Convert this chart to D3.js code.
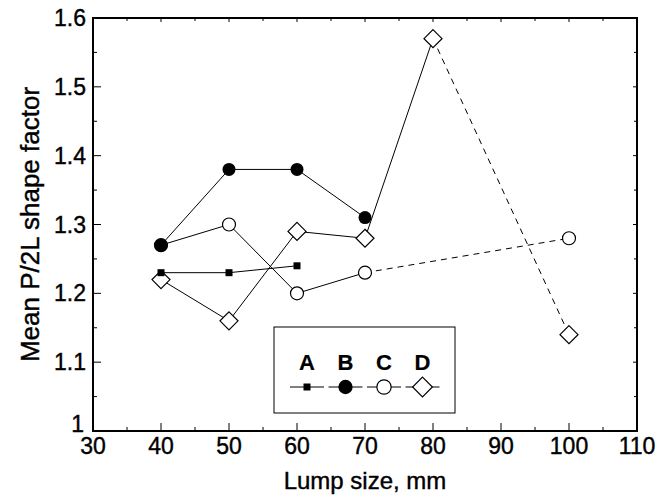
<!DOCTYPE html>
<html>
<head>
<meta charset="utf-8">
<script src="https://cdn.jsdelivr.net/npm/d3@7"></script>
<style>
  body { margin: 0; background: #fff; }
  text { font-family: Arial, "Liberation Sans", sans-serif; fill: #000; stroke: #000; stroke-width: 0.4px; }
</style>
</head>
<body>
<script>
// lump sizes and mean shape factors per series
var seriesA = [[40, 1.23], [50, 1.23], [60, 1.24]];
var seriesB = [[40, 1.27], [50, 1.38], [60, 1.38], [70, 1.31]];
var seriesC = [[40, 1.27], [50, 1.30], [60, 1.20], [70, 1.23]];
var seriesCdash = [[70, 1.23], [100, 1.28]];
var seriesD = [[40, 1.22], [50, 1.16], [60, 1.29], [70, 1.28], [80, 1.57]];
var seriesDdash = [[80, 1.57], [100, 1.14]];
var xTicks = [30, 40, 50, 60, 70, 80, 90, 100, 110];
var yTicks = [1, 1.1, 1.2, 1.3, 1.4, 1.5, 1.6];
var legendNames = ["A", "B", "C", "D"];

var w = 670, h = 502;
var pLeft = 93, pRight = 637, pTop = 18, pBottom = 431;

var svg = d3.select("body").append("svg")
    .attr("width", w)
    .attr("height", h);

var x = d3.scaleLinear().domain([30, 110]).range([pLeft, pRight]);
var y = d3.scaleLinear().domain([1, 1.6]).range([pBottom, pTop]);

var line = d3.line()
    .x(function(d) { return x(d[0]); })
    .y(function(d) { return y(d[1]); });

// minor + major ticks, pointing into the plot
var xMinor = d3.range(35, 110, 10);
var yMinor = d3.range(1.05, 1.6, 0.1);

var g = svg.append("g");
xTicks.forEach(function(t) {
  g.append("line").attr("x1", x(t)).attr("x2", x(t)).attr("y1", pBottom).attr("y2", pBottom - 8);
  g.append("line").attr("x1", x(t)).attr("x2", x(t)).attr("y1", pTop).attr("y2", pTop + 4);
});
xMinor.forEach(function(t) {
  g.append("line").attr("x1", x(t)).attr("x2", x(t)).attr("y1", pBottom).attr("y2", pBottom - 4);
  g.append("line").attr("x1", x(t)).attr("x2", x(t)).attr("y1", pTop).attr("y2", pTop + 3);
});
yTicks.forEach(function(t) {
  g.append("line").attr("x1", pLeft).attr("x2", pLeft + 8).attr("y1", y(t)).attr("y2", y(t));
  g.append("line").attr("x1", pRight).attr("x2", pRight - 4).attr("y1", y(t)).attr("y2", y(t));
});
yMinor.forEach(function(t) {
  g.append("line").attr("x1", pLeft).attr("x2", pLeft + 4).attr("y1", y(t)).attr("y2", y(t));
  g.append("line").attr("x1", pRight).attr("x2", pRight - 3).attr("y1", y(t)).attr("y2", y(t));
});
g.selectAll("line").attr("stroke", "#000").attr("stroke-width", 1);

// frame
svg.append("rect")
    .attr("x", pLeft).attr("y", pTop)
    .attr("width", pRight - pLeft).attr("height", pBottom - pTop)
    .attr("fill", "none").attr("stroke", "#000").attr("stroke-width", 2);

// tick labels
svg.selectAll(".xl").data(xTicks).enter().append("text")
    .attr("x", function(d) { return x(d); })
    .attr("y", pBottom + 23)
    .attr("text-anchor", "middle")
    .style("font-size", "23px")
    .text(function(d) { return d; });

svg.selectAll(".yl").data(yTicks).enter().append("text")
    .attr("x", function(d) { return d == 1 ? pLeft - 9 : pLeft - 7; })
    .attr("y", function(d) { return y(d) + (d == 1 ? 1 : 8); })
    .attr("text-anchor", "end")
    .style("font-size", "23px")
    .text(function(d) { return d == 1 ? "1" : d3.format(".1f")(d); });

// axis titles
svg.append("text")
    .attr("x", 365)
    .attr("y", 489)
    .attr("text-anchor", "middle")
    .style("font-size", "24px")
    .text("Lump size, mm");

svg.append("text")
    .attr("transform", "translate(39," + ((pTop + pBottom) / 2) + ") rotate(-90)")
    .attr("text-anchor", "middle")
    .style("font-size", "26px")
    .text("Mean P/2L shape factor");

// lines
function drawLine(data, dashed) {
  svg.append("path")
      .datum(data)
      .attr("d", line)
      .attr("fill", "none")
      .attr("stroke", "#000")
      .attr("stroke-width", 1)
      .attr("stroke-dasharray", dashed ? "6,5" : null);
}
drawLine(seriesA, false);
drawLine(seriesB, false);
drawLine(seriesC, false);
drawLine(seriesCdash, true);
drawLine(seriesD, false);
drawLine(seriesDdash, true);

// markers
function marker(sel, kind, big) {
  var k = big ? 1.1 : 1;
  if (kind == "A") {
    sel.append("rect").attr("x", -3.5).attr("y", -3.5).attr("width", 7).attr("height", 7)
        .attr("fill", "#000");
  } else if (kind == "B") {
    sel.append("circle").attr("r", 6.5 * k).attr("fill", "#000");
  } else if (kind == "C") {
    sel.append("circle").attr("r", 6.5 * k).attr("fill", "#fff").attr("stroke", "#000").attr("stroke-width", 1.2);
  } else {
    var s = 9 * k;
    sel.append("path").attr("d", "M0," + (-s) + "L" + s + ",0L0," + s + "L" + (-s) + ",0Z")
        .attr("fill", "#fff").attr("stroke", "#000").attr("stroke-width", 1.2);
  }
}
function drawMarkers(data, kind) {
  data.forEach(function(d) {
    var m = svg.append("g").attr("transform", "translate(" + x(d[0]) + "," + y(d[1]) + ")");
    marker(m, kind, false);
  });
}
drawMarkers(seriesD.concat([seriesDdash[1]]), "D");
drawMarkers(seriesC.concat([seriesCdash[1]]), "C");
drawMarkers(seriesB, "B");
drawMarkers(seriesA, "A");

// legend
var lg = svg.append("g");
lg.append("rect")
    .attr("x", 274).attr("y", 327).attr("width", 181).attr("height", 86)
    .attr("fill", "#fff").attr("stroke", "#000").attr("stroke-width", 1);
legendNames.forEach(function(n, i) {
  var cx = 307 + i * 38.5;
  lg.append("text")
      .attr("x", cx).attr("y", 370)
      .attr("text-anchor", "middle")
      .style("font-size", "22px")
      .style("font-weight", "bold")
      .style("stroke-width", "0.2px")
      .text(n);
  lg.append("line")
      .attr("x1", cx - 17).attr("x2", cx + 17)
      .attr("y1", 387).attr("y2", 387)
      .attr("stroke", "#000").attr("stroke-width", 1);
  var m = lg.append("g").attr("transform", "translate(" + cx + ",387)");
  marker(m, n, true);
});
</script>
</body>
</html>
